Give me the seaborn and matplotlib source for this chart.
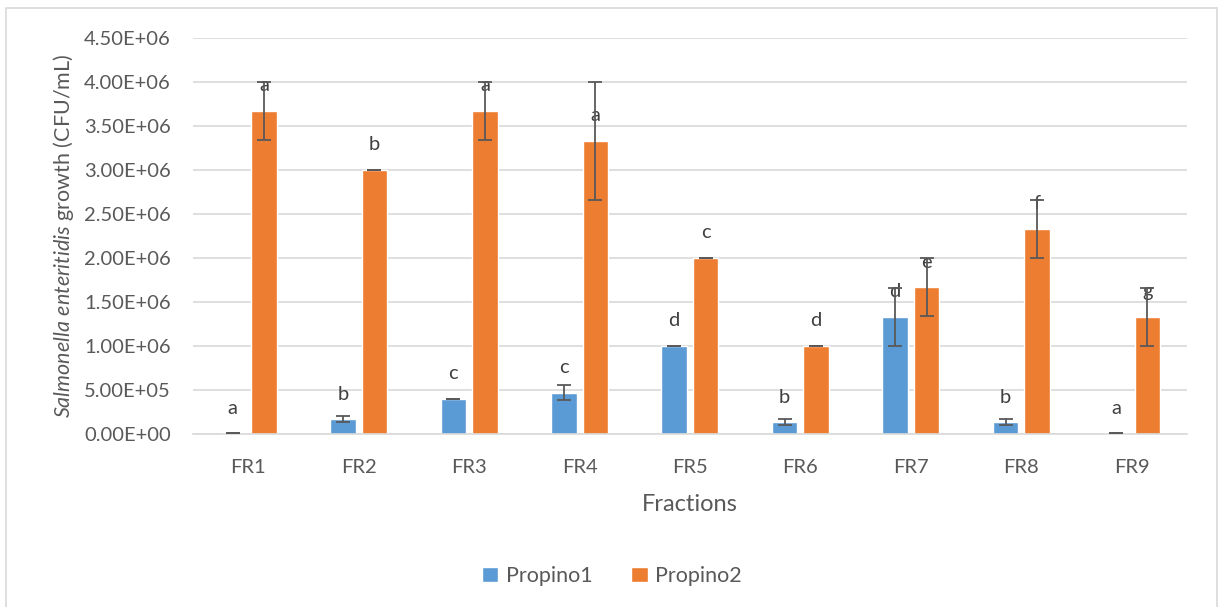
import matplotlib
matplotlib.use("Agg")
import matplotlib.pyplot as plt
import seaborn as sns
import pandas as pd
import numpy as np
from matplotlib.patches import Rectangle

fractions = ["FR1", "FR2", "FR3", "FR4", "FR5", "FR6", "FR7", "FR8", "FR9"]
propino1 = [1.0e4, 1.67e5, 4.0e5, 4.67e5, 1.0e6, 1.33e5, 1.33e6, 1.33e5, 1.0e4]
propino1_err = [0, 3.3e4, 0, 8.5e4, 0, 3.3e4, 3.3e5, 3.3e4, 0]
propino2 = [3.67e6, 3.0e6, 3.67e6, 3.33e6, 2.0e6, 1.0e6, 1.67e6, 2.33e6, 1.33e6]
propino2_err = [3.3e5, 0, 3.3e5, 6.7e5, 0, 0, 3.3e5, 3.3e5, 3.3e5]
letters1 = ["a", "b", "c", "c", "d", "b", "d", "b", "a"]
letters2 = ["a", "b", "a", "a", "c", "d", "e", "f", "g"]
yticks = np.arange(0, 4.5e6 + 1, 0.5e6)

df = pd.DataFrame({
    "Fraction": fractions * 2,
    "Value": propino1 + propino2,
    "Series": ["Propino1"] * 9 + ["Propino2"] * 9,
})

sns.set_theme(style="white")
plt.rcParams["font.family"] = ["Lato", "DejaVu Sans"]
plt.rcParams["mathtext.fontset"] = "custom"
plt.rcParams["mathtext.it"] = "Lato:italic"
plt.rcParams["mathtext.rm"] = "Lato"

text_color = "#595959"
grid_color = "#D9D9D9"
palette = {"Propino1": "#5B9BD5", "Propino2": "#ED7D31"}

fig = plt.figure(figsize=(12.24, 6.07), dpi=100)
ax = fig.add_axes([0.1577, 0.285, 0.812, 0.6525])

sns.barplot(data=df, x="Fraction", y="Value", hue="Series", order=fractions,
            palette=palette, width=0.57, gap=0.19, errorbar=None,
            saturation=1, ax=ax, legend=True)

# error bars and significance letters over each bar
for container, vals, errs, labs in zip(ax.containers,
                                       [propino1, propino2],
                                       [propino1_err, propino2_err],
                                       [letters1, letters2]):
    for bar, v, e, lab in zip(container, vals, errs, labs):
        xc = bar.get_x() + bar.get_width() / 2
        ax.errorbar(xc, v, yerr=e, fmt="none", ecolor="#595959",
                    elinewidth=1.3, capsize=5, capthick=1.3, zorder=5)
        ax.annotate(lab, (xc, v), xytext=(0, 18), textcoords="offset points",
                    ha="center", va="center", fontsize=14.5, color="#404040")

ax.set_ylim(0, 4.5e6)
ax.set_yticks(yticks)
ax.set_yticklabels([f"{t:.2E}" for t in yticks])
ax.set_xlim(-0.5, 8.5)
ax.yaxis.grid(True, color=grid_color, linewidth=1.2)
ax.set_axisbelow(True)
for side in ["top", "right", "left"]:
    ax.spines[side].set_visible(False)
ax.spines["bottom"].set_color(grid_color)
ax.spines["bottom"].set_linewidth(1.2)
ax.tick_params(axis="both", length=0, labelsize=14.5, colors=text_color)
ax.tick_params(axis="y", pad=16)
ax.tick_params(axis="x", pad=18)

ax.set_xlabel("Fractions", fontsize=17, color=text_color, labelpad=13)
ax.set_ylabel(r"$\it{Salmonella\ enteritidis}$ growth (CFU/mL)",
              fontsize=15.5, color=text_color, labelpad=6)

handles, labels = ax.get_legend_handles_labels()
ax.get_legend().remove()
fig.legend(handles, labels, loc="center", bbox_to_anchor=(0.5, 0.051), ncol=2,
           frameon=False, fontsize=15.5, handlelength=0.75, handleheight=0.75,
           columnspacing=1.8, handletextpad=0.35, labelcolor=text_color)

# light chart-area border
fig.patches.append(Rectangle((0.005, -0.05), 0.989, 1.036, transform=fig.transFigure,
                             fill=False, edgecolor="#D9D9D9", linewidth=1.2))

fig.savefig("out.png", dpi=100, facecolor="white")
